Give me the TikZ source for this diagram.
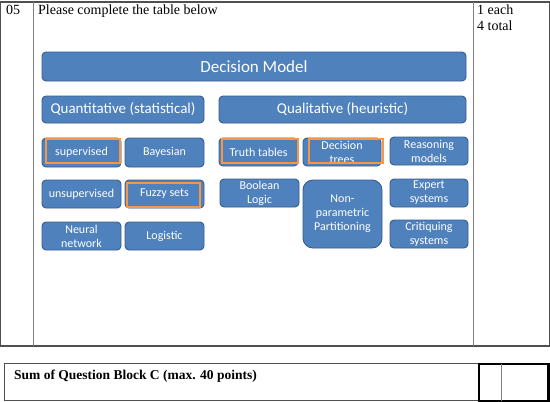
\documentclass[tikz,border=0pt]{standalone}
\usepackage{fontspec}
\setmainfont{Liberation Serif}
\newfontfamily\boxfont{Carlito}
\definecolor{boxblue}{HTML}{4F81BD}
\definecolor{boxedge}{HTML}{385D8A}
\definecolor{hlorange}{HTML}{F79646}
\definecolor{rulegray}{HTML}{505050}
\begin{document}
\begin{tikzpicture}[x=1pt,y=-1pt,
  bbox/.style={draw=boxedge, fill=boxblue, line width=0.9pt, rounded corners=4pt,
    text=white, inner sep=0pt, outer sep=0pt, align=center,
    font=\boxfont\fontsize{12}{14}\selectfont},
  bigbox/.style={bbox, font=\boxfont\fontsize{15}{17}\selectfont},
  hl/.style={draw=hlorange, line width=1.5pt, inner sep=0pt, outer sep=0pt},
  tline/.style={draw=rulegray, line width=1.4pt},
  cline/.style={draw=gray, line width=0.9pt},
  lbl/.style={inner sep=0pt, anchor=north west, font=\fontsize{14}{16}\selectfont}]
\useasboundingbox (0,0) rectangle (550,402);
% main table
\draw[tline] (0.7,2) rectangle (549.3,346);
\draw[cline] (33,2) -- (33,346);
\draw[cline] (473,2) -- (473,346);
\node[lbl] (num) at (6,5) {05};
\node[lbl] (q) at (38,5) {Please complete the table below};
\node[lbl, align=left] (pts) at (477,5) {1 each\\4 total};
% bottom table
\draw[draw=rulegray, line width=1pt] (4,363) rectangle (549,400);
\draw[draw=black, line width=2.2pt] (479,364) rectangle (548.5,401);
\draw[cline] (501,364) -- (501,401);
\node[lbl, font=\bfseries\fontsize{13.5}{15}\selectfont] (sum) at (14,370) {Sum of Question Block C (max. 40 points)};
% diagram
\node[bigbox, font=\boxfont\fontsize{17}{19}\selectfont, minimum width=424pt, minimum height=29pt] (dm) at (254,66.5) {Decision Model};
\node[bigbox, minimum width=162pt, minimum height=27pt] (quant) at (123,109.5) {Quantitative (statistical)};
\node[bigbox, minimum width=247pt, minimum height=27pt] (qual) at (342.5,109.5) {Qualitative (heuristic)};
% quantitative
\node[bbox, minimum width=79pt, minimum height=29pt] (sup) at (81.5,152.5) {supervised};
\node[bbox, minimum width=79pt, minimum height=29pt] (bay) at (164.5,152.5) {Bayesian};
\node[bbox, minimum width=79pt, minimum height=28pt] (unsup) at (81.5,194) {unsupervised};
\node[bbox, minimum width=79pt, minimum height=28pt] (fuzzy) at (164.5,194) {Fuzzy sets};
\node[bbox, minimum width=79pt, minimum height=28pt] (nn) at (81.5,236) {Neural\\network};
\node[bbox, minimum width=79pt, minimum height=28pt] (logi) at (164.5,236) {Logistic};
% qualitative
\node[bbox, minimum width=79pt, minimum height=28pt] (tt) at (258.5,152) {Truth tables};
\node[bbox, minimum width=78pt, minimum height=28pt] (dt) at (342,152) {Decision\\trees};
\node[bbox, minimum width=78pt, minimum height=28pt] (rm) at (429,151) {Reasoning\\models};
\node[bbox, minimum width=79pt, minimum height=28pt] (bl) at (259.5,193) {Boolean\\Logic};
\node[bbox, minimum width=79pt, minimum height=68pt, rounded corners=10pt] (np) at (342.5,214) {Non-\\parametric\\Partitioning};
\node[bbox, minimum width=78pt, minimum height=28pt] (es) at (429,193) {Expert\\systems};
\node[bbox, minimum width=78pt, minimum height=28pt] (cs) at (429,234) {Critiquing\\systems};
% orange highlights
\node[hl, minimum width=74pt, minimum height=24pt] (hsup) at (83,151) {};
\node[hl, minimum width=73pt, minimum height=24pt] (hfuzzy) at (163.5,195) {};
\node[hl, minimum width=76pt, minimum height=24pt] (htt) at (260,151) {};
\node[hl, minimum width=74pt, minimum height=24pt] (hdt) at (346,151) {};
\end{tikzpicture}
\end{document}
